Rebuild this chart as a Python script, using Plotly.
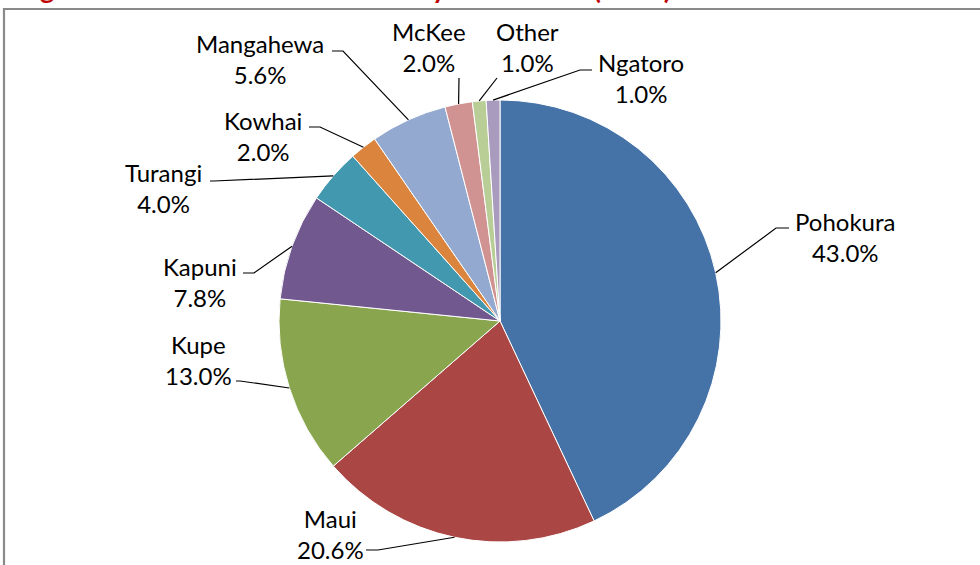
import math
import plotly.graph_objects as go

# ---- data ----
fields = ["Pohokura", "Maui", "Kupe", "Kapuni", "Turangi", "Kowhai",
          "Mangahewa", "McKee", "Other", "Ngatoro"]
shares = [43.0, 20.6, 13.0, 7.8, 4.0, 2.0, 5.6, 2.0, 1.0, 1.0]
colors = ["#4572A7", "#AA4643", "#89A54E", "#71588F", "#4198AF", "#DB843D",
          "#93A9CF", "#D19392", "#B9CD96", "#A99BBD"]
caption = "Figure 5: Natural Gas Production by Field Totals (2011)"

# ---- layout (pixels) ----
W, H = 980, 565
CX, CY, R = 500, 321, 221
# label centre, leader text-end, leader elbow
label_pos = {
    "Pohokura": ((845, 237), (789, 228), (776, 228)),
    "Maui": ((330, 534), (366, 550), (378, 550)),
    "Kupe": ((198, 360), (236, 381), (240, 381)),
    "Kapuni": ((200, 282), (243, 273), (254, 273)),
    "Turangi": ((163, 188), (210, 181), (214, 181)),
    "Kowhai": ((263, 136), (309, 127), (320, 127)),
    "Mangahewa": ((260, 59), (332, 51), (343, 51)),
    "McKee": ((429, 47), (459, 78), (459, 78)),
    "Other": ((527, 47), (497, 78), (497, 78)),
    "Ngatoro": ((641, 78), (592, 70), (580, 70)),
}


def px(x):
    return x / W


def py(y):
    return 1 - y / H


FONT = "Lato"

fig = go.Figure(go.Pie(
    labels=fields, values=shares, sort=False, direction="clockwise",
    rotation=0, textinfo="none", hoverinfo="label+percent",
    marker=dict(colors=colors, line=dict(color="white", width=1)),
    domain=dict(x=[px(CX - R), px(CX + R)], y=[py(CY + R), py(CY - R)]),
    showlegend=False,
))

shapes = []
annotations = []
total = sum(shares)
cum = 0.0
for name, v in zip(fields, shares):
    mid = (cum + v / 2) / total * 2 * math.pi
    cum += v
    ex = CX + R * math.sin(mid)
    ey = CY - R * math.cos(mid)
    (lx, ly), (tx, ty), (bx, by) = label_pos[name]
    path = f"M {px(ex)} {py(ey)} L {px(bx)} {py(by)} L {px(tx)} {py(ty)}"
    shapes.append(dict(type="path", xref="paper", yref="paper", path=path,
                       line=dict(color="black", width=1.2)))
    annotations.append(dict(
        x=px(lx), y=py(ly), xref="paper", yref="paper", showarrow=False,
        text=f"{name}<br>{v:.1f}%", align="center",
        xanchor="center", yanchor="middle",
        font=dict(family=FONT, size=24, color="#000000")))

# chart border
shapes.append(dict(type="rect", xref="paper", yref="paper",
                   x0=px(4), x1=px(W + 10), y0=py(H + 10), y1=py(9),
                   line=dict(color="#8A8A8A", width=2.2), fillcolor="rgba(0,0,0,0)"))

# cut-off caption above the chart
annotations.append(dict(
    x=px(16), y=py(7), xref="paper", yref="paper", showarrow=False,
    xanchor="left", yanchor="bottom",
    text=f"<b>{caption}</b>",
    font=dict(family=FONT, size=27, color="#C00000")))

fig.update_layout(
    width=W, height=H, margin=dict(l=0, r=0, t=0, b=0),
    paper_bgcolor="white", plot_bgcolor="white",
    shapes=shapes, annotations=annotations,
)

fig.write_html("out.html", config={"displayModeBar": False},
               post_script="document.body.style.margin='0';document.body.style.overflow='hidden';")
